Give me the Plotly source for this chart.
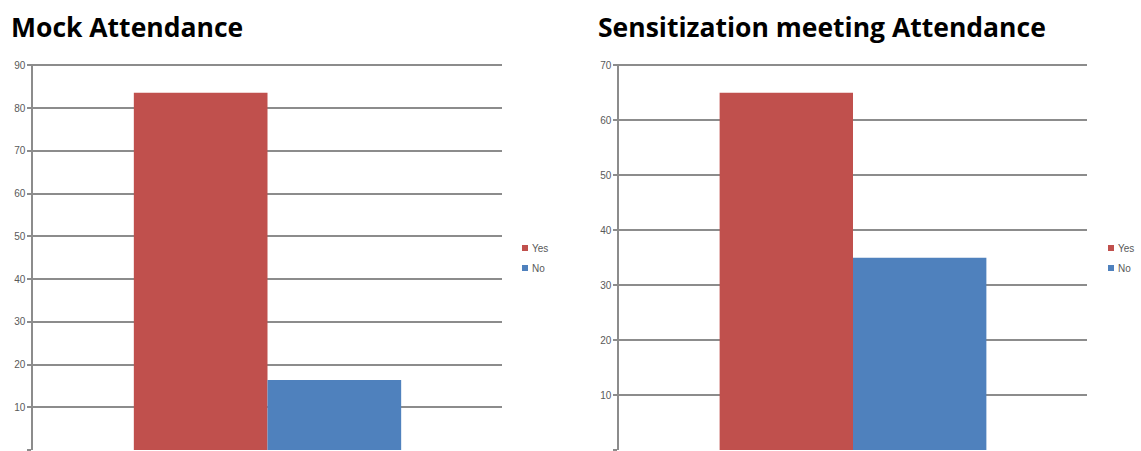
import plotly.graph_objects as go

W, H = 1141, 451

categories = ["Attendance"]
series_names = ["Yes", "No"]
mock_values = [83.6, 16.4]
sens_values = [65, 35]
titles = ["Mock Attendance", "Sensitization meeting Attendance"]
mock_ticks = list(range(0, 91, 10))
sens_ticks = list(range(0, 71, 10))
colors = ["#C0504D", "#4F81BD"]

fig = go.Figure()

for i, name in enumerate(series_names):
    fig.add_trace(go.Bar(x=categories, y=[mock_values[i]], name=name,
                         marker=dict(color=colors[i], line=dict(width=0)),
                         xaxis="x", yaxis="y", showlegend=False))
for i, name in enumerate(series_names):
    fig.add_trace(go.Bar(x=categories, y=[sens_values[i]], name=name,
                         marker=dict(color=colors[i], line=dict(width=0)),
                         xaxis="x2", yaxis="y2", showlegend=False))

ydom = [1 / H, 1 - 64 / H]
grid = "#8c8c8c"
tickfont = dict(family="Liberation Sans, Arial", size=10, color="#595959")

yax_common = dict(domain=ydom, showgrid=True, gridcolor=grid, gridwidth=1.5,
                  showline=True, linecolor=grid, linewidth=1.5,
                  ticks="outside", ticklen=4, tickcolor=grid, tickwidth=1.5,
                  tickfont=tickfont, zeroline=False, fixedrange=True,
                  automargin=False)
xax_common = dict(showticklabels=False, showgrid=False, zeroline=False,
                  showline=False, ticks="", automargin=False)

fig.update_layout(
    width=W, height=H,
    margin=dict(l=0, r=0, t=0, b=0),
    paper_bgcolor="white", plot_bgcolor="white",
    barmode="group", bargap=0.43, bargroupgap=0,
    xaxis=dict(domain=[33 / W, 502 / W], anchor="y", **xax_common),
    yaxis=dict(range=[0, 90.3], tickvals=mock_ticks, anchor="x", **yax_common),
    xaxis2=dict(domain=[619 / W, 1087 / W], anchor="y2", **xax_common),
    yaxis2=dict(range=[0, 70.25], tickvals=sens_ticks, anchor="x2", **yax_common),
    showlegend=False,
)

# titles
fig.add_annotation(text="<b>" + titles[0] + "</b>", xref="paper", yref="paper",
                   x=9 / W, y=1 - 27 / H, xanchor="left", yanchor="middle",
                   showarrow=False,
                   font=dict(family="Open Sans", size=26.5, color="black"))
fig.add_annotation(text="<b>" + titles[1] + "</b>", xref="paper", yref="paper",
                   x=596 / W, y=1 - 27 / H, xanchor="left", yanchor="middle",
                   showarrow=False,
                   font=dict(family="Open Sans", size=26.5, color="black"))

# legends (keys as small squares + text)
legend_x = [522, 1108]
legend_y = [248, 268]
for lx in legend_x:
    for i, name in enumerate(series_names):
        cy = legend_y[i]
        fig.add_shape(type="rect", xref="paper", yref="paper",
                      x0=lx / W, x1=(lx + 6) / W,
                      y0=1 - (cy + 3) / H, y1=1 - (cy - 3) / H,
                      fillcolor=colors[i], line=dict(width=0))
        fig.add_annotation(text=name, xref="paper", yref="paper",
                           x=(lx + 8) / W, y=1 - cy / H,
                           xanchor="left", yanchor="middle", showarrow=False,
                           font=dict(family="Liberation Sans, Arial", size=10,
                                     color="#595959"))

fig.write_html("out.html")
